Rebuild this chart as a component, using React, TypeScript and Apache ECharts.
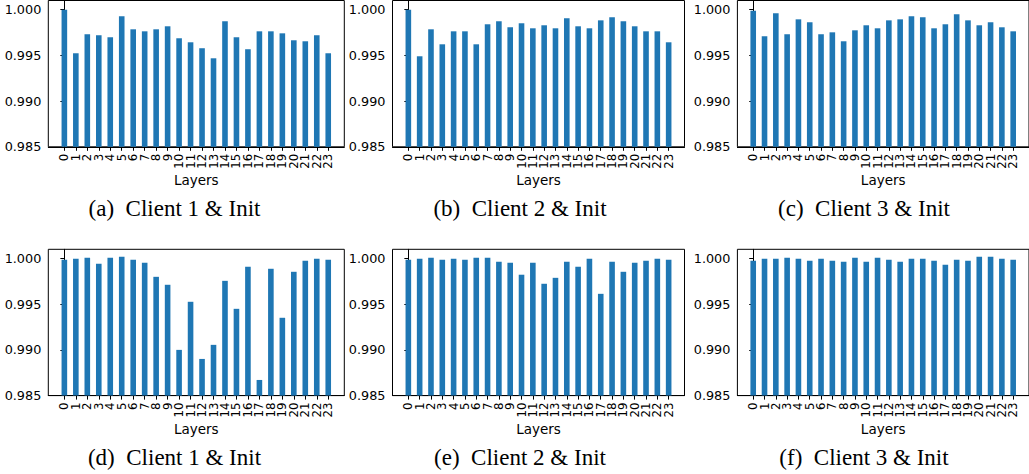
import React, { useEffect, useRef } from 'react';
import * as echarts from 'echarts';

const layers = [0, 1, 2, 3, 4, 5, 6, 7, 8, 9, 10, 11, 12, 13, 14, 15, 16, 17, 18, 19, 20, 21, 22, 23];
const yTicks = [0.985, 0.99, 0.995, 1.0];

const client1TopRow = [1.0, 0.99523, 0.99731, 0.9972, 0.99698, 0.99927, 0.99785, 0.99763, 0.99785, 0.99818, 0.99687, 0.99643, 0.99578, 0.99468, 0.99873, 0.99698, 0.99567, 0.99763, 0.99763, 0.99741, 0.99665, 0.99654, 0.9972, 0.99523];
const client2TopRow = [1.0, 0.9949, 0.99785, 0.99621, 0.99763, 0.99763, 0.99621, 0.9984, 0.99873, 0.99807, 0.99851, 0.99796, 0.99829, 0.99796, 0.99905, 0.99818, 0.99796, 0.99883, 0.99916, 0.99873, 0.99818, 0.99763, 0.99763, 0.99643];
const client3TopRow = [0.99989, 0.99709, 0.9996, 0.99731, 0.99894, 0.99862, 0.99731, 0.99752, 0.99654, 0.99774, 0.99829, 0.99796, 0.99883, 0.99894, 0.99927, 0.99916, 0.99796, 0.9984, 0.99949, 0.99883, 0.99829, 0.99862, 0.99807, 0.99763];
const client1BottomRow = [0.99985, 0.99996, 1.00007, 0.99942, 1.00007, 1.00018, 0.99985, 0.99953, 0.99799, 0.99712, 0.99, 0.99526, 0.98901, 0.99055, 0.99755, 0.99449, 0.99909, 0.98671, 0.99887, 0.99351, 0.99854, 0.99974, 0.99996, 0.99985];
const client2BottomRow = [0.99985, 0.99996, 1.00007, 0.99985, 0.99996, 0.99985, 1.00007, 1.00007, 0.99964, 0.99953, 0.99822, 0.99953, 0.99723, 0.99788, 0.99964, 0.99909, 0.99996, 0.99613, 0.99964, 0.99854, 0.99953, 0.99974, 0.99996, 0.99985];
const client3BottomRow = [0.99974, 0.99996, 0.99996, 1.00007, 0.99996, 0.99974, 0.99996, 0.99974, 0.99964, 1.00007, 0.99964, 1.00007, 0.99985, 0.99964, 0.99996, 0.99996, 0.99974, 0.99931, 0.99985, 0.99974, 1.00018, 1.00018, 0.99996, 0.99985];

const captions = [
  '(a)\u2002Client 1 & Init',
  '(b)\u2002Client 2 & Init',
  '(c)\u2002Client 3 & Init',
  '(d)\u2002Client 1 & Init',
  '(e)\u2002Client 2 & Init',
  '(f)\u2002Client 3 & Init',
];
const seriesValues = [client1TopRow, client2TopRow, client3TopRow, client1BottomRow, client2BottomRow, client3BottomRow];

const evenLayers = layers.filter((l) => l % 2 === 0);
const oddLayers = layers.filter((l) => l % 2 === 1);

const gridLefts = [48.3, 392.5, 737.4];
const gridWidths = [296, 292, 296];
const gridTops = [0.5, 249.3];
const captionXs = [174.5, 520, 864];
const captionYs = [208, 457];
const GRID_H = 146.3;

const xLabelStyle = {
  rotate: 90,
  margin: 7,
  fontSize: 11.8,
  fontFamily: 'DejaVu Sans',
  color: '#000',
  showMinLabel: true,
  showMaxLabel: true,
  hideOverlap: false,
  formatter: (v: number) => String(v),
};

export default function App() {
  const ref = useRef<HTMLDivElement>(null);
  useEffect(() => {
    if (!ref.current) return;
    const chart = echarts.init(ref.current, null, { renderer: 'svg' });
    const grids: any[] = [];
    const xAxes: any[] = [];
    const yAxes: any[] = [];
    const series: any[] = [];
    const graphics: any[] = [];
    for (let p = 0; p < 6; p++) {
      const row = Math.floor(p / 3);
      const col = p % 3;
      grids.push({
        left: gridLefts[col],
        top: gridTops[row],
        width: gridWidths[col],
        height: GRID_H,
        show: true,
        borderColor: '#000',
        borderWidth: 1,
        backgroundColor: 'transparent',
      });
      xAxes.push({
        type: 'value',
        gridIndex: p,
        position: 'bottom',
        min: -1.4,
        max: 24.4,
        splitLine: { show: false },
        axisLine: { show: true, onZero: false, lineStyle: { color: '#000', width: 1 } },
        axisTick: { show: true, customValues: layers, length: 4, lineStyle: { color: '#000' } },
        axisLabel: { ...xLabelStyle, customValues: evenLayers },
        name: 'Layers',
        nameLocation: 'middle',
        nameGap: 23,
        nameTextStyle: { fontSize: 13.5, fontFamily: 'DejaVu Sans', color: '#000' },
      });
      xAxes.push({
        type: 'value',
        gridIndex: p,
        position: 'bottom',
        offset: 0,
        min: -1.4,
        max: 24.4,
        splitLine: { show: false },
        axisLine: { show: false, onZero: false },
        axisTick: { show: false },
        axisLabel: { ...xLabelStyle, customValues: oddLayers },
      });
      yAxes.push({
        type: 'value',
        gridIndex: p,
        min: 0.985,
        max: 1.001,
        splitLine: { show: false },
        axisLine: { show: true, lineStyle: { color: '#000', width: 1 } },
        axisTick: { show: true, customValues: yTicks, length: 4, lineStyle: { color: '#000' } },
        axisLabel: {
          customValues: yTicks,
          margin: 7,
          fontSize: 12.8,
          fontFamily: 'DejaVu Sans',
          color: '#000',
          showMinLabel: true,
          showMaxLabel: true,
          formatter: (v: number) => v.toFixed(3),
        },
      });
      series.push({
        type: 'bar',
        xAxisIndex: p * 2,
        yAxisIndex: p,
        barWidth: 5.6,
        clip: true,
        itemStyle: { color: '#1f77b4' },
        data: layers.map((l, i) => [l, seriesValues[p][i]]),
      });
      graphics.push({
        type: 'text',
        x: captionXs[col],
        y: captionYs[row],
        style: {
          text: captions[p],
          align: 'center',
          verticalAlign: 'middle',
          fontSize: 23,
          fontFamily: 'Liberation Serif',
          fill: '#000',
        },
      });
    }
    chart.setOption({
      animation: false,
      backgroundColor: '#fff',
      grid: grids,
      xAxis: xAxes,
      yAxis: yAxes,
      series,
      graphic: graphics,
    });
    return () => chart.dispose();
  }, []);
  return <div ref={ref} style={{ position: 'absolute', left: 0, top: 0, width: 1029, height: 474 }} />;
}
